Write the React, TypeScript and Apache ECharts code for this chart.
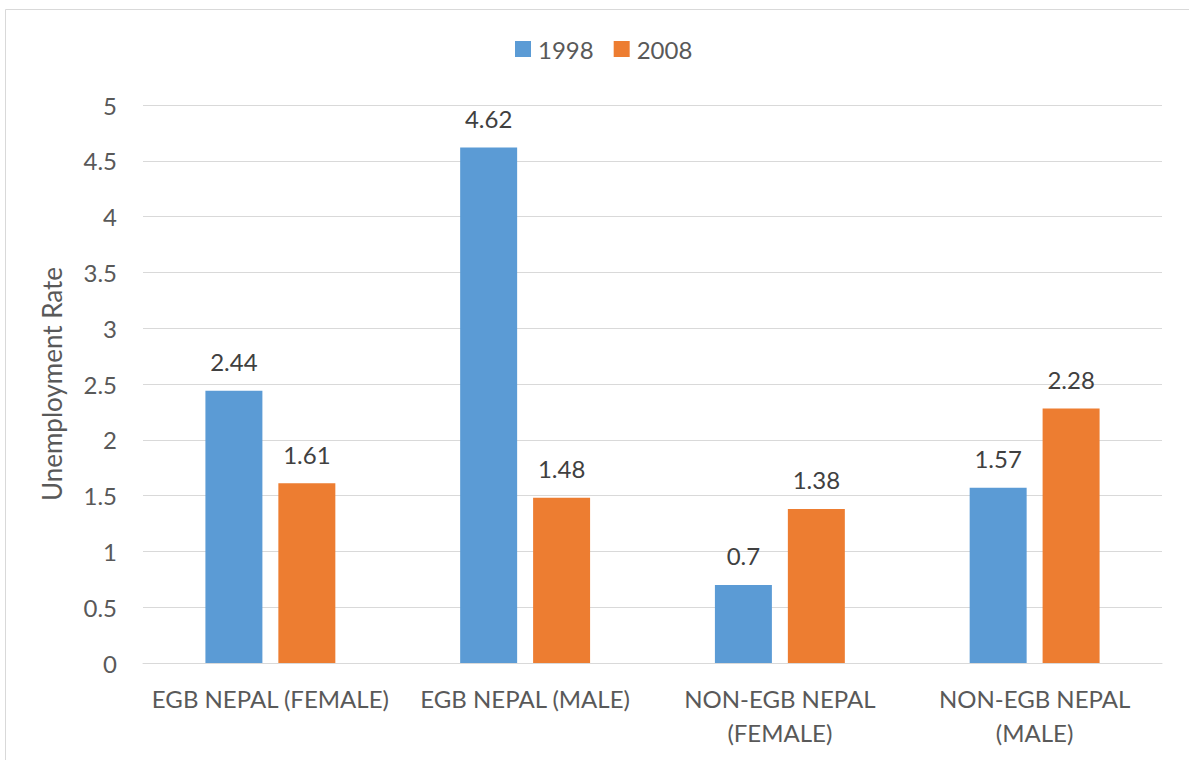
import React, { useEffect, useRef } from "react";
import * as echarts from "echarts";

const categories = [
  "EGB NEPAL (FEMALE)",
  "EGB NEPAL (MALE)",
  "NON-EGB NEPAL\n(FEMALE)",
  "NON-EGB NEPAL\n(MALE)",
];
const series1998 = [2.44, 4.62, 0.7, 1.57];
const series2008 = [1.61, 1.48, 1.38, 2.28];
const seriesNames = ["1998", "2008"];

const FONT = "Lato, 'Open Sans', sans-serif";

export default function App() {
  const ref = useRef<HTMLDivElement>(null);
  useEffect(() => {
    if (!ref.current) return;
    const chart = echarts.init(ref.current, null, { renderer: "svg" });
    const labelStyle = {
      show: true,
      position: "top" as const,
      distance: 17,
      color: "#404040",
      fontSize: 24,
      fontFamily: FONT,
    };
    chart.setOption({
      animation: false,
      backgroundColor: "#ffffff",
      textStyle: { fontFamily: FONT },
      graphic: [
        {
          type: "rect",
          shape: { x: 5.5, y: 9.5, width: 1200, height: 800 },
          style: { fill: "none", stroke: "#d9d9d9", lineWidth: 1 },
          silent: true,
        },
      ],
      legend: {
        data: seriesNames,
        left: 510,
        top: 32,
        itemWidth: 16,
        itemHeight: 16,
        itemGap: 20,
        icon: "rect",
        textStyle: { color: "#595959", fontSize: 24, fontFamily: FONT, padding: [0, 0, 0, 2] },
      },
      grid: { left: 143, right: 27, top: 105, bottom: 97, containLabel: false },
      xAxis: {
        type: "category",
        data: categories,
        axisLine: { show: true, lineStyle: { color: "#d9d9d9", width: 1 } },
        axisTick: { show: false },
        axisLabel: {
          color: "#595959",
          fontSize: 24,
          fontFamily: FONT,
          margin: 18,
          lineHeight: 34,
          interval: 0,
        },
      },
      yAxis: {
        type: "value",
        min: 0,
        max: 5,
        interval: 0.5,
        name: "Unemployment Rate",
        nameLocation: "middle",
        nameGap: 78,
        nameTextStyle: { color: "#595959", fontSize: 26, fontFamily: FONT },
        axisLine: { show: false },
        axisTick: { show: false },
        splitLine: { lineStyle: { color: "#d9d9d9", width: 1 } },
        axisLabel: {
          color: "#595959",
          fontSize: 24,
          fontFamily: FONT,
          margin: 26,
        },
      },
      series: [
        {
          name: seriesNames[0],
          type: "bar",
          data: series1998,
          itemStyle: { color: "#5b9bd5" },
          barGap: "28%",
          barCategoryGap: "49%",
          label: labelStyle,
        },
        {
          name: seriesNames[1],
          type: "bar",
          data: series2008,
          itemStyle: { color: "#ed7d31" },
          barGap: "28%",
          barCategoryGap: "49%",
          label: labelStyle,
        },
      ],
    });
    return () => chart.dispose();
  }, []);
  return (
    <div
      ref={ref}
      style={{ position: "fixed", left: 0, top: 0, width: 1189, height: 760 }}
    />
  );
}
